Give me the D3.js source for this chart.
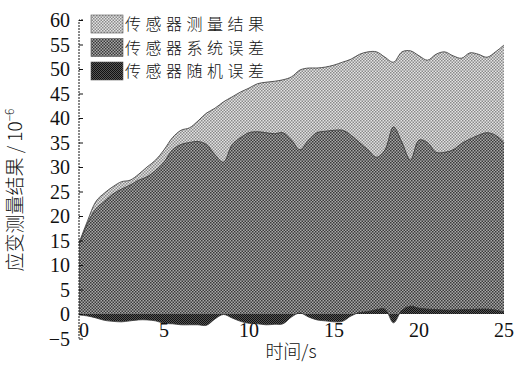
<!DOCTYPE html>
<html><head><meta charset="utf-8">
<script src="https://cdn.jsdelivr.net/npm/d3@7"></script>
<style>body{margin:0;background:#fff}svg{display:block}</style>
</head><body>
<svg id="c" width="514" height="365"></svg>
<script>
const time = d3.range(0, 25.01, 0.5);
const measured = [14.5,19,23,24.7,26,27,27.3,28.5,30,31.4,33.5,36,37.5,38,39.4,41,42,43.3,44.3,45.3,46.1,47,47.3,47.5,47.8,48.4,49.8,50.2,50.2,50.4,50.8,51.4,52,53,53.5,53.5,52.4,51.4,53.5,53.7,52.7,51.8,53,53.5,52.7,52.2,53.3,53,52.4,53.5,54.9];
const systematic = [14,18.5,21.5,23,24.5,25.5,26.3,27.3,28,29.3,31,33.5,34.6,35,35.2,34.6,32.5,31,34.5,36,37,37.2,37,36.8,37,35.5,33.5,35.5,37,37.3,37.5,37.5,36.5,35,33.5,32,33.5,38.2,35,31.4,35.5,35,33,33,33.5,34.8,35.7,36.5,37,36.5,35];
const randomErr = [-0.2,-0.4,-0.8,-1.3,-1.5,-1.6,-1.4,-1.2,-1.2,-1.4,-1.9,-2.0,-2.2,-2.2,-2.2,-2.3,-1.0,-0.1,-0.8,-1.5,-1.9,-2.0,-2.2,-2.1,-2.0,-0.6,0.2,-0.6,-1.2,-1.4,-1.6,-1.5,-0.4,0.3,0.5,0.9,1.0,-1.8,0.8,1.6,1.2,1.0,0.9,0.8,0.8,0.9,0.9,1.0,1.0,0.8,0.4];
const seriesNames = ["传感器测量结果","传感器系统误差","传感器随机误差"];
const xTicks = [0,5,10,15,20,25];
const yTicks = [-5,0,5,10,15,20,25,30,35,40,45,50,55,60];

const svg = d3.select("#c");
const defs = svg.append("defs");
function pat(id, bg, fg, size){
  const p = defs.append("pattern").attr("id", id).attr("width", size).attr("height", size).attr("patternUnits","userSpaceOnUse");
  p.append("rect").attr("width", size).attr("height", size).attr("fill", bg);
  p.append("rect").attr("width", size/2).attr("height", size/2).attr("fill", fg);
  p.append("rect").attr("x", size/2).attr("y", size/2).attr("width", size/2).attr("height", size/2).attr("fill", fg);
}
pat("pLight", "#e4e4e4", "#8a8a8a", 3);
pat("pMid", "#a8a8a8", "#3a3a3a", 3);
pat("pDark", "#555", "#111", 2);
const fills = ["url(#pLight)","url(#pMid)","url(#pDark)"];

const x = d3.scaleLinear().domain([0,25]).range([79,504]);
const y = d3.scaleLinear().domain([-5,60]).range([338.5,20]);

const data = [measured, systematic, randomErr];
data.forEach((vals, i) => {
  const pts = time.map((t, j) => [t, vals[j]]);
  const area = d3.area().x(d => x(d[0])).y0(y(0)).y1(d => y(d[1])).curve(d3.curveCatmullRom);
  svg.append("path").datum(pts).attr("d", area).attr("fill", fills[i]).attr("stroke", "none");
  const line = d3.line().x(d => x(d[0])).y(d => y(d[1])).curve(d3.curveCatmullRom);
  svg.append("path").datum(pts).attr("d", line).attr("fill", "none").attr("stroke", "#333").attr("stroke-width", 0.8);
});

// y axis
const yAxis = d3.axisRight(y).tickValues(yTicks).tickSize(4).tickFormat("");
const ga = svg.append("g").attr("transform", "translate(79,0)").call(yAxis);
ga.select(".domain").attr("stroke", "#111").attr("stroke-dasharray", "2,1").attr("d", `M4,${y(60)}H0V${y(-5)}`);
ga.selectAll(".tick line").attr("stroke", "#111");
svg.append("g").selectAll("text").data(yTicks).join("text")
  .attr("x", 70).attr("y", d => y(d) + 7).attr("text-anchor", "end")
  .attr("font-family", "Liberation Serif, serif").attr("font-size", 20).attr("fill", "#111")
  .text(d => d < 0 ? "\u2212" + Math.abs(d) : d);

// x tick labels
svg.append("g").selectAll("text").data(xTicks).join("text")
  .attr("x", d => x(d) + (d === 0 ? 5 : 0)).attr("y", 337).attr("text-anchor", "middle")
  .attr("font-family", "Liberation Serif, serif").attr("font-size", 20).attr("fill", "#111")
  .text(d => d);

// axis titles
svg.append("text").attr("x", 291).attr("y", 358).attr("text-anchor", "middle")
  .attr("font-family", "Noto Sans CJK SC").attr("font-weight", 300).attr("font-size", 18).attr("fill", "#111")
  .text("时间/s");
const yl = svg.append("text").attr("transform", "translate(22,190) rotate(-90)").attr("text-anchor", "middle")
  .attr("font-family", "Noto Sans CJK SC").attr("font-weight", 300).attr("font-size", 19).attr("fill", "#111");
yl.append("tspan").text("应变测量结果 / 10");
yl.append("tspan").attr("dy", -8).attr("font-size", 12).text("−6");

// legend
const lg = svg.append("g");
seriesNames.forEach((n, i) => {
  const yy = 15 + i * 23.5;
  lg.append("rect").attr("x", 91).attr("y", yy).attr("width", 32).attr("height", 18).attr("fill", fills[i]).attr("stroke", "#555").attr("stroke-width", 0.6);
  lg.append("text").attr("x", 125).attr("y", yy + 15).attr("font-family", "Noto Sans CJK SC").attr("font-weight", 300)
    .attr("font-size", 16).attr("letter-spacing", 4.5).attr("fill", "#111").text(n);
});
</script>
</body></html>
